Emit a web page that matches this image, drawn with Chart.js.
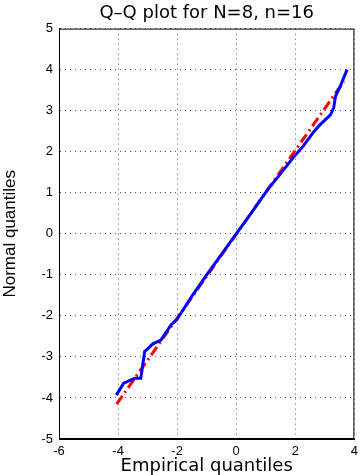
<!DOCTYPE html>
<html>
<head>
  <meta charset="UTF-8" />
  <title>Q-Q plot</title>
  <script src="https://cdn.jsdelivr.net/npm/chart.js"></script>
  <style>
    html, body { margin: 0; padding: 0; background: #fff; }
    #wrap { width: 363px; height: 475px; position: relative; }
  </style>
</head>
<body>
  <div id="wrap"><canvas id="qq"></canvas></div>
  <script>
    // empirical vs normal quantiles
    const empX = [-4.06, -3.81, -3.43, -3.23, -3.10, -2.82, -2.55, -2.21, -2.02, -1.5, -1.0, -0.5, 0, 0.5, 1.10, 1.43, 1.92, 2.26, 2.64, 2.84, 3.19, 3.30, 3.36, 3.52, 3.75];
    const normY = [-3.93, -3.64, -3.52, -3.52, -2.87, -2.68, -2.59, -2.22, -2.10, -1.52, -1.0, -0.5, 0, 0.5, 1.11, 1.40, 1.85, 2.13, 2.50, 2.66, 2.90, 3.07, 3.35, 3.59, 4.0];
    // reference line
    const refX = [-4.05, 3.65];
    const refY = [-4.15, 3.72];
    const xTicks = [-6, -4, -2, 0, 2, 4];
    const yTicks = [-5, -4, -3, -2, -1, 0, 1, 2, 3, 4, 5];

    const toPts = (xs, ys) => xs.map((x, i) => ({ x: x, y: ys[i] }));

    // box around plot area, like matlab
    const boxPlugin = {
      id: 'box',
      afterDraw(chart) {
        const a = chart.chartArea, c = chart.ctx;
        c.save();
        c.strokeStyle = '#000';
        c.lineWidth = 1;
        c.strokeRect(a.left + 0.5, a.top + 0.5, a.right - a.left - 1, a.bottom - a.top - 1);
        c.restore();
      }
    };

    const font = "'Liberation Sans', Arial, Helvetica, sans-serif";
    const wide = "'DejaVu Sans', " + font;
    const gridOpts = { color: '#555', lineWidth: 1, tickLength: 0, drawTicks: false };

    new Chart(document.getElementById('qq'), {
      type: 'scatter',
      data: {
        datasets: [
          {
            data: toPts(empX, normY),
            showLine: true,
            borderColor: '#0000ff',
            borderWidth: 3,
            pointRadius: 0,
            tension: 0
          },
          {
            data: toPts(refX, refY),
            showLine: true,
            borderColor: '#ff0000',
            borderWidth: 3,
            borderDash: [10, 4, 2, 4],
            pointRadius: 0
          }
        ]
      },
      options: {
        responsive: true,
        maintainAspectRatio: false,
        animation: false,
        layout: { autoPadding: false, padding: { top: 0, right: 2, left: 0, bottom: 0 } },
        plugins: {
          legend: { display: false },
          tooltip: { enabled: false },
          title: {
            display: true,
            fullSize: false,
            text: 'Q\u2013Q plot for N=8, n=16',
            color: '#000',
            font: { family: wide, size: 18, weight: 'normal', lineHeight: 1.2 },
            padding: { top: 3, bottom: 4 }
          }
        },
        scales: {
          x: {
            type: 'linear',
            min: -6, max: 4,
            afterBuildTicks: ax => { ax.ticks = xTicks.map(v => ({ value: v })); },
            afterFit: ax => { ax.height = 36; },
            border: { display: true, color: '#000', width: 1, dash: [1, 4] },
            grid: gridOpts,
            ticks: { color: '#000', font: { family: font, size: 13 }, padding: 5, maxRotation: 0, autoSkip: false },
            title: {
              display: true,
              text: 'Empirical quantiles',
              color: '#000',
              font: { family: wide, size: 18, lineHeight: 1 },
              padding: { top: 0, bottom: 0 }
            }
          },
          y: {
            type: 'linear',
            min: -5, max: 5,
            afterBuildTicks: ax => { ax.ticks = yTicks.map(v => ({ value: v })); },
            afterFit: ax => { ax.width = 59; },
            border: { display: true, color: '#000', width: 1, dash: [1, 4] },
            grid: gridOpts,
            ticks: { color: '#000', font: { family: font, size: 13 }, padding: 6, autoSkip: false },
            title: {
              display: true,
              text: 'Normal quantiles',
              color: '#000',
              font: { family: font, size: 17 },
              padding: { top: 0, bottom: 6 }
            }
          }
        }
      },
      plugins: [boxPlugin]
    });
  </script>
</body>
</html>
